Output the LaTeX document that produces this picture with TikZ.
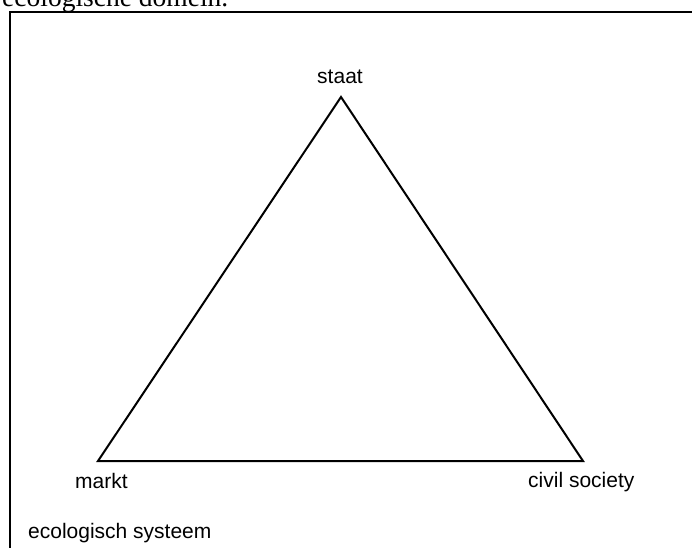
\documentclass[tikz,border=0pt]{standalone}
\usepackage{fontspec}
\setmainfont{Liberation Sans}
\newfontfamily\bookfont{Liberation Serif}
\begin{document}
\begin{tikzpicture}[x=1pt,y=-1pt,
  lbl/.style={inner sep=0pt, font=\fontsize{21}{25}\selectfont},
  frameline/.style={draw=black, line width=2.6pt},
  triline/.style={draw=black, line width=2pt, line join=miter}]
\useasboundingbox (0,0) rectangle (692,547);
\clip (0,0) rectangle (692,547);
% cut-off caption text at the very top
\node[inner sep=0pt, anchor=base west, font=\bookfont\fontsize{27.5}{30}\selectfont] (cap) at (2,6) {ecologische domein.};
% outer frame (ecological system), extends beyond the picture
\coordinate (fA) at (10,12);
\coordinate (fB) at (720,570);
\draw[frameline] (fA) rectangle (fB);
% triangle corners
\coordinate (top) at (341,97);
\coordinate (left) at (98,461);
\coordinate (right) at (583,461);
\draw[triline] (top) -- (left) -- (right) -- cycle;
% labels
\node[lbl, anchor=base] (staat) at (340,83) {staat};
\node[lbl, anchor=base west] (markt) at (75,488) {markt};
\node[lbl, anchor=base west] (civil) at (528,487) {civil society};
\node[lbl, anchor=base west] (eco) at (28,538) {ecologisch systeem};
\end{tikzpicture}
\end{document}
